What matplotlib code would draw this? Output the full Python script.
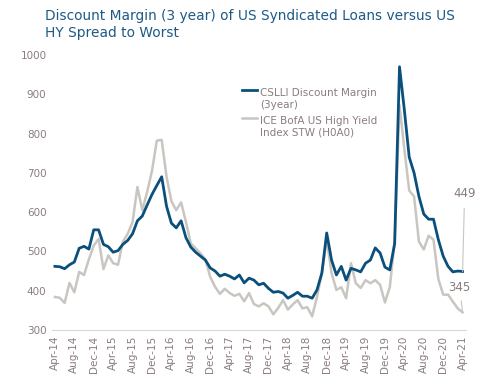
import numpy as np
import matplotlib
matplotlib.use('Agg')
import matplotlib.pyplot as plt
from matplotlib.lines import Line2D

# monthly, Apr-14 .. Apr-21
months = ['Jan', 'Feb', 'Mar', 'Apr', 'May', 'Jun', 'Jul', 'Aug', 'Sep', 'Oct', 'Nov', 'Dec']
dates = []
for k in range(85):
    m = (3 + k) % 12
    y = 14 + (3 + k) // 12
    dates.append(months[m] + '-' + str(y))

# CSLLI discount margin (3 year)
dm = [462, 461, 456, 466, 473, 508, 513, 506, 555, 555,
      518, 512, 498, 502, 518, 528, 545, 578, 590, 618,
      645, 668, 690, 615, 572, 560, 578, 535, 511, 498,
      488, 478, 458, 450, 437, 442, 437, 430, 440, 420,
      432, 427, 415, 419, 406, 396, 398, 394, 381, 388,
      396, 386, 386, 381, 402, 445, 547, 478, 440, 462,
      427, 457, 453, 448, 470, 478, 509, 496, 460, 453,
      520, 970, 860, 740, 700, 640, 595, 582, 582, 530,
      488, 462, 448, 450, 449]

# ICE BofA US HY STW (H0A0)
hy = [384, 382, 369, 420, 396, 448, 440, 480, 515, 532,
      455, 490, 470, 466, 525, 545, 575, 664, 605, 651,
      705, 782, 784, 690, 628, 605, 625, 575, 520, 508,
      495, 480, 435, 410, 392, 405, 394, 387, 392, 373,
      394, 366, 360, 368, 360, 340, 356, 376, 352, 365,
      376, 355, 358, 335, 384, 445, 530, 445, 402, 409,
      381, 470, 419, 407, 427, 419, 427, 415, 370, 409,
      525, 873, 760, 655, 640, 525, 505, 540, 530, 430,
      390, 390, 372, 355, 345]

blue = '#0b4f7c'
grey = '#c9c6c1'
txt = '#8a7d7d'

fig = plt.figure(figsize=(4.98, 3.90), dpi=100)
ax = fig.add_axes([52/498, 60/390, 414/498, 275/390])

x = np.arange(len(dates))
ax.plot(x, hy, color=grey, lw=1.8, solid_joinstyle='round')
ax.plot(x, dm, color=blue, lw=2.0, solid_joinstyle='round')

ax.set_xlim(-0.6, 84.7)
ax.set_ylim(300, 1000)
ax.set_yticks(range(300, 1001, 100))
ax.set_xticks(x[::4])
ax.set_xticklabels(dates[::4], rotation=90)
ax.tick_params(length=0, labelsize=7.5, colors=txt, pad=4)
for s in ['top', 'right', 'left']:
    ax.spines[s].set_visible(False)
ax.spines['bottom'].set_color('#d9d9d9')

# end labels
ax.annotate(str(dm[-1]), xy=(x[-1], dm[-1]), xytext=(2, 78), textcoords='offset pixels',
            ha='center', va='center', fontsize=8.5, color=txt,
            arrowprops=dict(arrowstyle='-', color='#c9c6c1', lw=0.8, shrinkA=4, shrinkB=0))
ax.annotate(str(hy[-1]), xy=(x[-1], hy[-1]), xytext=(-3, 25), textcoords='offset pixels',
            ha='center', va='center', fontsize=8.5, color=txt,
            arrowprops=dict(arrowstyle='-', color='#c9c6c1', lw=0.8, shrinkA=3, shrinkB=0))

handles = [Line2D([], [], color=blue, lw=2.0), Line2D([], [], color=grey, lw=1.8)]
leg = ax.legend(handles, ['CSLLI Discount Margin\n(3year)', 'ICE BofA US High Yield\nIndex STW (H0A0)'],
                loc='upper left', bbox_to_anchor=(186/414, 1 - 20/275), frameon=False,
                fontsize=7.5, handlelength=1.4, handletextpad=0.3, labelspacing=0.6,
                borderaxespad=0, labelcolor=txt)
for h in leg.get_texts():
    h.set_va('center')

fig.text(45/498, 1 - 9/390, 'Discount Margin (3 year) of US Syndicated Loans versus US\nHY Spread to Worst',
         ha='left', va='top', fontsize=9.9, color='#1d5a85', linespacing=1.3)

fig.savefig('out.png', dpi=100)
